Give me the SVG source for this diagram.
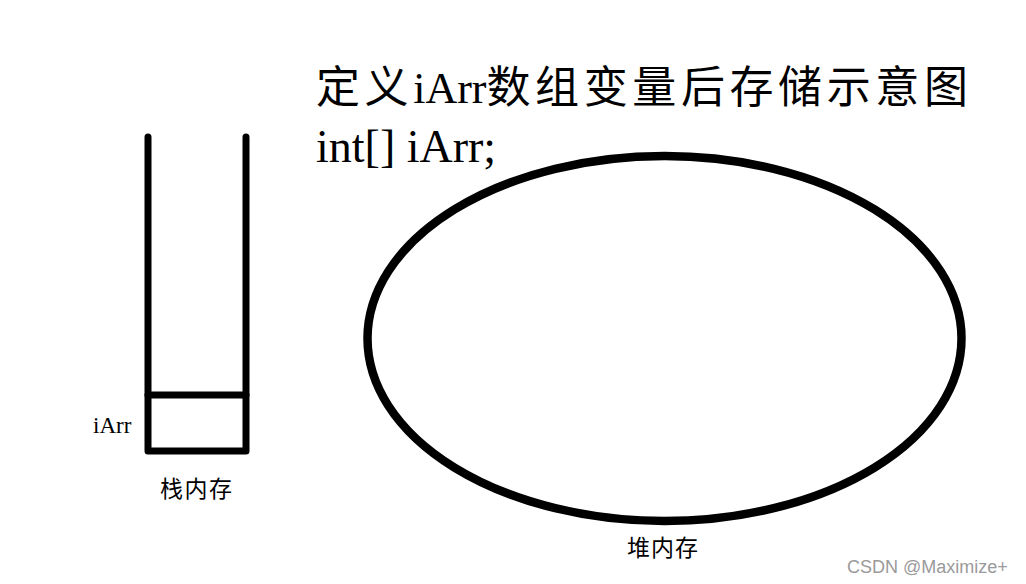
<svg xmlns="http://www.w3.org/2000/svg" width="1026" height="584" viewBox="0 0 1026 584">
<style>
.ln{fill:none;stroke:#000;stroke-width:7;stroke-linecap:round;stroke-linejoin:round}
.t{font-family:"Liberation Serif","Noto Sans CJK SC",serif;fill:#000}
.cjk{font-family:"Noto Sans CJK SC","Liberation Serif",sans-serif}
.wm{font-family:"Liberation Sans","Noto Sans",sans-serif;fill:#9a9a9a;font-size:18px}
</style>
<rect width="1026" height="584" fill="#fff"/>
<g id="title">
<text class="t" x="316" y="103" font-size="44"><tspan class="cjk" letter-spacing="4.6">定义</tspan>iArr<tspan class="cjk" letter-spacing="4.6">数组变量后存储示意图</tspan></text>
<text class="t" x="316" y="162" font-size="46">int[] iArr;</text>
</g>
<g id="stack">
<polyline class="ln" points="148,137 148,451 246,451 246,137"/>
<line class="ln" x1="148" y1="395" x2="246" y2="395"/>
<text class="t" x="93" y="433" font-size="23">iArr</text>
<text class="t cjk" x="160" y="497" font-size="23" letter-spacing="1.5">栈内存</text>
</g>
<g id="heap">
<ellipse cx="664.5" cy="338.5" rx="297" ry="182.5" fill="none" stroke="#000" stroke-width="8.5"/>
<text class="t cjk" x="627" y="556" font-size="23" letter-spacing="1">堆内存</text>
</g>
<g id="connectors"/>
<text class="wm" x="847" y="573">CSDN @Maximize+</text>
</svg>
